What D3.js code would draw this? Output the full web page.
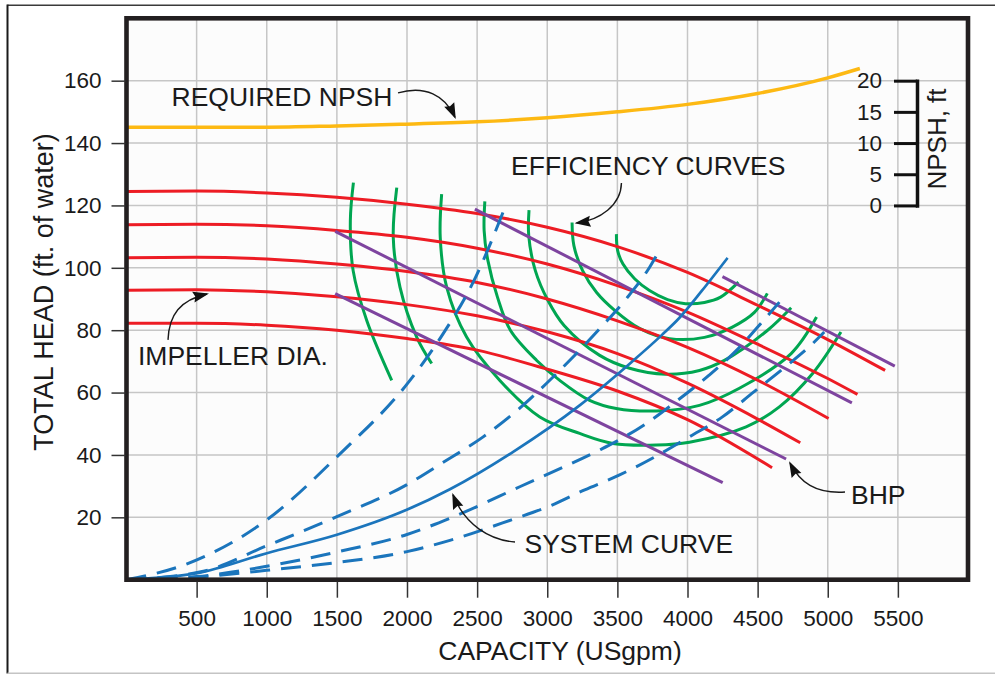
<!DOCTYPE html>
<html>
<head>
<meta charset="utf-8">
<script src="https://cdn.jsdelivr.net/npm/d3@7"></script>
<style>
  body { margin: 0; background: #fff; }
  svg { display: block; }
  text { font-family: "Liberation Sans", Arial, Helvetica, sans-serif; fill: #1a1a1a; }
</style>
</head>
<body>
<svg id="chart" width="995" height="675"></svg>
<script>
// ---- axis ticks ----
const capacityTicks = [500, 1000, 1500, 2000, 2500, 3000, 3500, 4000, 4500, 5000, 5500];
const headTicks = [20, 40, 60, 80, 100, 120, 140, 160];
const npshTicks = [0, 5, 10, 15, 20];

// ---- required NPSH (ft) against capacity (USgpm) ----
const npshQ  = [0, 500, 1000, 1500, 1950, 2500, 3000, 3500, 4000, 4500, 5000, 5229];
const npshFt = [12.55, 12.55, 12.55, 12.75, 13.0, 13.4, 14.05, 15.0, 16.2, 17.95, 20.45, 21.95];

// ---- head-capacity curves, one per impeller diameter [Q, head] ----
const impeller1 = [[0,124.5],[500,124.6],[1000,124],[1500,122.6],[2000,120.4],[2500,117.4],[3000,113],[3500,106.8],[4000,98.5],[4500,88],[5000,77],[5409,67.1]];
const impeller2 = [[0,113.8],[500,114],[1000,113.5],[1500,112],[2000,109.8],[2500,106.3],[3000,101.2],[3500,94.3],[4000,85.8],[4500,75.5],[5000,64.5],[5212,59.4]];
const impeller3 = [[0,103.2],[500,103.4],[1000,102.8],[1500,101.2],[2000,98.8],[2500,95.3],[3000,90],[3500,83],[4000,74.5],[4500,64],[5006,51.7]];
const impeller4 = [[0,92.8],[500,93],[1000,92.3],[1500,90.7],[2000,88.2],[2500,84.6],[3000,79.5],[3500,72.5],[4000,63],[4500,51.5],[4804,43.9]];
const impeller5 = [[0,82.2],[500,82.2],[1000,81.6],[1500,80],[2000,77.3],[2500,73.6],[3000,67.5],[3500,60.5],[4000,51.3],[4603,35.9]];

// ---- iso-efficiency curves [Q, head] ----
const effA = [[1618,127.3],[1596,115.1],[1616,99.1],[1713,83.1],[1891,63.9]];
const effB = [[1927,125.7],[1902,109.8],[1950,93.8],[2069,77.8],[2176,69.3]];
const effC = [[2247,123.6],[2237,109.8],[2283,93.8],[2425,77.8],[2662,63.9],[2947,52.2],[3231,46.9],[3468,43.7],[3777,43.2],[4014,44.1],[4418,49.0],[4655,55.4],[4892,66.1],[5094,79.4]];
const effD = [[2555,121.3],[2550,111.9],[2577,102.3],[2645,90.6],[2738,79.9],[2925,70.3],[3089,63.9],[3302,57.5],[3492,54.9],[3777,54.1],[4085,55.9],[4370,61.4],[4739,72.5],[4920,84.2]];
const effE = [[2870,118.5],[2868,110.3],[2915,99.1],[3005,89.5],[3120,81.5],[3371,72.0],[3587,67.8],[3843,65.9],[4085,67.1],[4263,70.3],[4569,79.9],[4739,87.2]];
const effF = [[3177,114.5],[3190,107.1],[3252,99.1],[3352,92.1],[3483,86.3],[3658,80.6],[3872,77.3],[4121,77.7],[4320,81.0],[4477,85.7],[4569,91.8]];
const effG = [[3493,110.8],[3502,105.5],[3540,101.2],[3623,96.5],[3729,92.7],[3858,89.8],[3986,88.5],[4121,88.9],[4236,90.6],[4363,95.4]];

// ---- brake horsepower lines [Q, head] ----
const bhp1 = [[1488,111.7],[4703,38.7]];
const bhp2 = [[1488,91.7],[4251,31.1]];
const bhp3 = [[2484,118.8],[5172,56.7]];
const bhp4 = [[4249,97.2],[5478,68.5]];

// ---- system curves [Q, head] ----
const systemSolid = [[0,0],[503,2.1],[1001,8.5],[1500,14.4],[1998,22.4],[2306,29.0],[2757,41.0],[3231,55.9],[3594,69.5],[3818,78.5],[3943,84],[4100,92.5],[4286,103.2]];
const systemAlt1 = [[0,0],[432,5.1],[1001,19.2],[1500,39.4],[2021,63.9],[2258,78.9],[2472,95.4],[2698,119.3]];
const systemAlt2 = [[0,0],[548,2.7],[1001,10.9],[1500,20.2],[2000,30.5],[2247,37.3],[2543,45.8],[2804,55],[2994,62.9],[3184,71.4],[3374,80.5],[3564,90.1],[3730,100.2],[3813,106.6]];
const systemAlt3 = [[0,0],[500,1.0],[1000,4.3],[1500,8.9],[2000,14.5],[2306,19.7],[2804,29.8],[3374,41.6],[3466,43.7],[3706,50.1],[3929,57.5],[4152,65.5],[4362,74.1],[4541,83.1],[4655,89.0]];
const systemAlt4 = [[0,0],[500,0.8],[1000,3.0],[1500,5.5],[2000,9],[2306,12.6],[2745,19.2],[3018,23.6],[3267,28.8],[3516,33.6],[3776,39.6],[4013,45.8],[4249,52.2],[4473,60.2],[4697,68.2],[4904,76.2],[4975,79.4]];

// ---- callouts: label, label anchor [Q, head], arrow (start, c1, c2, tip) ----
const calloutText = ["REQUIRED NPSH", "EFFICIENCY CURVES", "IMPELLER DIA.", "SYSTEM CURVE", "BHP"];
const calloutAt = [[321,152.0],[2742,129.6],[82,68.7],[2838,8.7],[5166,24.4]];
const calloutArrow = [
  [[1936,156.1],[2128,158.6],[2271,155.4],[2342,148.3]],
  [[3529,127.2],[3526,120.1],[3376,115.3],[3209,114.4]],
  [[296,76.9],[303,84.9],[382,89.7],[574,91.6]],
  [[2770,12.1],[2592,12.7],[2414,17.5],[2328,27.2]],
  [[5123,28.1],[4909,27.5],[4802,31.3],[4731,37.4]]
];

// ---- scales ----
const svg = d3.select("#chart");
const x = d3.scaleLinear().domain([0, 6000]).range([126.5, 968]);
const y = d3.scaleLinear().domain([0, 180]).range([579.7, 18.3]);
const yNpsh = d3.scaleLinear().domain([0, 20]).range([y(120), y(160)]);
const plain = d3.format("d");

// outer border of the figure
svg.append("line").attr("x1", 7.5).attr("x2", 995).attr("y1", 5.3).attr("y2", 5.3)
  .attr("stroke", "#3a3a3a").attr("stroke-width", 1.5);
svg.append("line").attr("x1", 7.5).attr("x2", 7.5).attr("y1", 4.5).attr("y2", 673.5)
  .attr("stroke", "#1a1a1a").attr("stroke-width", 2);
svg.append("line").attr("x1", 7.5).attr("x2", 995).attr("y1", 673.3).attr("y2", 673.3)
  .attr("stroke", "#c4c4c4").attr("stroke-width", 1.5);

// plot background
svg.append("rect").attr("x", x(0)).attr("y", y(180))
  .attr("width", x(6000) - x(0)).attr("height", y(0) - y(180)).attr("fill", "#fcfcfc");

// grid
const grid = svg.append("g").attr("stroke", "#c6c6c6").attr("stroke-width", 1.5);
grid.selectAll(".gx").data(capacityTicks).join("line")
  .attr("x1", d => x(d)).attr("x2", d => x(d)).attr("y1", y(0)).attr("y2", y(180));
grid.selectAll(".gy").data(headTicks).join("line")
  .attr("y1", d => y(d)).attr("y2", d => y(d)).attr("x1", x(0)).attr("x2", x(6000));

// line generators
const smooth = d3.line().x(d => x(d[0])).y(d => y(d[1])).curve(d3.curveMonotoneX);
const arc = d3.line().x(d => x(d[0])).y(d => y(d[1])).curve(d3.curveCatmullRom.alpha(0.5));
const straight = d3.line().x(d => x(d[0])).y(d => y(d[1]));

const curves = svg.append("g").attr("fill", "none").attr("stroke-linecap", "butt");

// efficiency
curves.selectAll(".eff").data([effA, effB, effC, effD, effE, effF, effG]).join("path")
  .attr("d", arc).attr("stroke", "#00a651").attr("stroke-width", 3);

// impeller diameters
curves.selectAll(".imp").data([impeller1, impeller2, impeller3, impeller4, impeller5]).join("path")
  .attr("d", smooth).attr("stroke", "#ed1c24").attr("stroke-width", 3);

// BHP
curves.selectAll(".bhp").data([bhp1, bhp2, bhp3, bhp4]).join("path")
  .attr("d", straight).attr("stroke", "#7e449f").attr("stroke-width", 3);

// system curves
curves.selectAll(".sysd").data([systemAlt1, systemAlt2, systemAlt3, systemAlt4]).join("path")
  .attr("d", smooth).attr("stroke", "#1b75bc").attr("stroke-width", 3)
  .attr("stroke-dasharray", "20 11");
curves.append("path").datum(systemSolid)
  .attr("d", smooth).attr("stroke", "#1b75bc").attr("stroke-width", 2.7);

// required NPSH (on its own scale)
const npshLine = d3.line().x((d, i) => x(npshQ[i])).y(d => yNpsh(d)).curve(d3.curveMonotoneX);
curves.append("path").datum(npshFt).attr("d", npshLine)
  .attr("stroke", "#fdb913").attr("stroke-width", 3.5);

// plot frame
svg.append("rect").attr("x", x(0)).attr("y", y(180))
  .attr("width", x(6000) - x(0)).attr("height", y(0) - y(180))
  .attr("fill", "none").attr("stroke", "#231f20").attr("stroke-width", 4.6);

// axes
const xAxis = svg.append("g").attr("transform", `translate(0,${y(0) + 2})`)
  .call(d3.axisBottom(x).tickValues(capacityTicks).tickFormat(plain)
    .tickSize(16).tickPadding(12).tickSizeOuter(0));
const yAxis = svg.append("g").attr("transform", `translate(${x(0) - 1},0)`)
  .call(d3.axisLeft(y).tickValues(headTicks).tickFormat(plain)
    .tickSize(14).tickPadding(10).tickSizeOuter(0));
[xAxis, yAxis].forEach(a => {
  a.select(".domain").remove();
  a.selectAll(".tick line").attr("stroke", "#333").attr("stroke-width", 1.5);
  a.selectAll(".tick text").attr("font-size", 22.5).attr("fill", "#1a1a1a")
    .style("font-family", '"Liberation Sans", Arial, sans-serif');
});

// NPSH axis
const nAxis = svg.append("g").attr("transform", "translate(917,0)")
  .call(d3.axisLeft(yNpsh).tickValues(npshTicks).tickFormat(plain)
    .tickSize(23).tickPadding(12).tickSizeOuter(0));
nAxis.select(".domain").attr("stroke", "#111").attr("stroke-width", 3.5).attr("stroke-linecap", "square");
nAxis.selectAll(".tick line").attr("stroke", "#111").attr("stroke-width", 3);
nAxis.selectAll(".tick text").attr("font-size", 22.5).attr("fill", "#1a1a1a")
  .style("font-family", '"Liberation Sans", Arial, sans-serif');

// axis titles
svg.append("text").attr("x", 560).attr("y", 660).attr("text-anchor", "middle")
  .attr("font-size", 26.5).text("CAPACITY (USgpm)");
svg.append("text").attr("transform", "translate(53,292) rotate(-90)").attr("text-anchor", "middle")
  .attr("font-size", 27).text("TOTAL HEAD (ft. of water)");
svg.append("text").attr("transform", "translate(946,139) rotate(-90)").attr("text-anchor", "middle")
  .attr("font-size", 26).text("NPSH, ft");

// callouts
const notes = svg.append("g");
calloutText.forEach((t, i) => {
  notes.append("text").attr("x", x(calloutAt[i][0])).attr("y", y(calloutAt[i][1]))
    .attr("font-size", 26.5).text(t);
  const p = calloutArrow[i].map(d => [x(d[0]), y(d[1])]);
  const path = d3.path();
  path.moveTo(p[0][0], p[0][1]);
  path.bezierCurveTo(p[1][0], p[1][1], p[2][0], p[2][1], p[3][0], p[3][1]);
  notes.append("path").attr("d", path.toString()).attr("fill", "none")
    .attr("stroke", "#1a1a1a").attr("stroke-width", 1.4);
  // arrow head along the last tangent
  const ang = Math.atan2(p[3][1] - p[2][1], p[3][0] - p[2][0]);
  const len = 14, half = 5.5;
  const bx = p[3][0] - len * Math.cos(ang), by = p[3][1] - len * Math.sin(ang);
  const head = [
    [p[3][0] + 2 * Math.cos(ang), p[3][1] + 2 * Math.sin(ang)],
    [bx - half * Math.sin(ang), by + half * Math.cos(ang)],
    [bx + 2 * Math.cos(ang), by + 2 * Math.sin(ang)],
    [bx + half * Math.sin(ang), by - half * Math.cos(ang)]
  ];
  notes.append("path").attr("d", "M" + head.map(h => h.join(",")).join("L") + "Z")
    .attr("fill", "#111");
});
</script>
</body>
</html>
